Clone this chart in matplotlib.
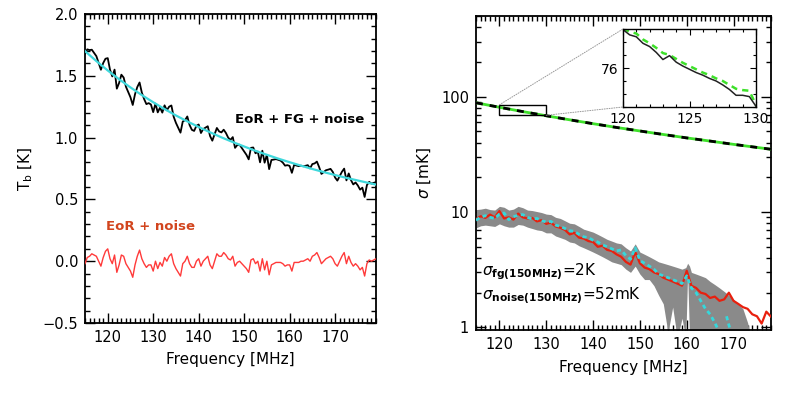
import numpy as np
import matplotlib
matplotlib.use("Agg")
import matplotlib.pyplot as plt
from matplotlib.ticker import MultipleLocator, FixedLocator, FixedFormatter, NullFormatter, LogLocator
from matplotlib.patches import Rectangle, ConnectionPatch

# ---------------- data: left panel (0.5 MHz grid) ----------------
freq_left_start, freq_left_stop = 115.0, 179.0
eor_noise = [-0.02, 0.03, 0.04, 0.06, 0.05, 0.04, 0.00, -0.04, 0.03, 0.08,
             0.10, 0.02, -0.02, 0.05, -0.09, -0.03, 0.05, 0.04, -0.02, -0.05,
             -0.08, -0.13, -0.03, 0.04, 0.09, 0.02, -0.02, -0.05, -0.03, -0.03,
             -0.08, 0.00, -0.06, -0.01, -0.04, 0.03, 0.00, 0.04, 0.06, -0.02,
             -0.06, -0.09, -0.12, -0.02, 0.00, 0.04, -0.02, -0.05, -0.05, 0.00,
             0.02, -0.04, 0.00, 0.02, 0.04, -0.03, -0.06, 0.00, 0.06, 0.04,
             0.04, 0.07, 0.05, 0.02, 0.01, 0.04, -0.04, -0.01, 0.00, -0.02,
             -0.04, -0.06, -0.09, 0.01, 0.02, -0.02, 0.00, -0.08, 0.02, -0.07,
             0.00, -0.11, -0.03, -0.02, -0.01, -0.01, -0.01, -0.02, -0.04, -0.03,
             -0.03, -0.08, -0.01, -0.01, -0.01, 0.00, 0.00, 0.01, 0.02, 0.00,
             0.04, 0.05, 0.07, 0.03, -0.02, 0.00, 0.02, 0.03, 0.04, 0.02,
             -0.02, -0.04, 0.00, 0.04, 0.07, -0.02, 0.04, -0.01, -0.04, -0.02,
             -0.04, -0.07, -0.05, -0.12, -0.02, 0.01, 0.00, 0.01, 0.02]
eor_fg_noise = [1.680, 1.714, 1.708, 1.711, 1.685, 1.659, 1.604, 1.549, 1.603, 1.638,
                1.643, 1.549, 1.495, 1.550, 1.396, 1.442, 1.509, 1.486, 1.412, 1.369,
                1.326, 1.264, 1.351, 1.409, 1.446, 1.364, 1.312, 1.271, 1.279, 1.268,
                1.206, 1.275, 1.204, 1.243, 1.202, 1.261, 1.221, 1.250, 1.260, 1.169,
                1.119, 1.079, 1.040, 1.130, 1.141, 1.171, 1.102, 1.063, 1.054, 1.095,
                1.106, 1.037, 1.069, 1.080, 1.092, 1.013, 0.975, 1.027, 1.078, 1.050,
                1.042, 1.064, 1.037, 0.999, 0.982, 1.004, 0.917, 0.940, 0.942, 0.915,
                0.888, 0.861, 0.824, 0.917, 0.920, 0.873, 0.887, 0.800, 0.894, 0.797,
                0.861, 0.745, 0.819, 0.822, 0.826, 0.820, 0.814, 0.798, 0.773, 0.777,
                0.771, 0.715, 0.780, 0.774, 0.769, 0.773, 0.768, 0.772, 0.777, 0.751,
                0.786, 0.791, 0.806, 0.761, 0.706, 0.721, 0.736, 0.741, 0.747, 0.722,
                0.677, 0.652, 0.688, 0.723, 0.749, 0.654, 0.710, 0.656, 0.621, 0.637,
                0.613, 0.579, 0.595, 0.520, 0.616, 0.642, 0.628, 0.634, 0.640]
fit_freq = [115, 117.5, 120, 122.5, 125, 127.5, 130, 132.5, 135, 137.5, 140, 142.5,
            145, 147.5, 150, 152.5, 155, 157.5, 160, 162.5, 165, 167.5, 170, 172.5,
            175, 177.5, 179]
fit_tb = [1.700, 1.619, 1.543, 1.472, 1.406, 1.344, 1.286, 1.231, 1.179, 1.131,
          1.086, 1.043, 1.002, 0.964, 0.928, 0.893, 0.861, 0.830, 0.801, 0.773,
          0.746, 0.721, 0.697, 0.674, 0.653, 0.632, 0.620]

# ---------------- data: right panel ----------------
fg_freq = [115, 120, 125, 130, 135, 140, 145, 150, 155, 160, 165, 170, 175, 178]
fg_sigma = [88.5, 80.9, 74.2, 68.3, 63.0, 58.3, 54.1, 50.4, 47.0, 43.9, 41.2, 38.6, 36.3, 35.0]

sig_freq = list(range(115, 179))
red_sigma = [8.7, 9.2, 8.9, 9.5, 9.0, 10.2, 8.8, 9.0, 8.6, 9.7,
             9.0, 8.8, 8.9, 8.3, 8.5, 7.9, 8.1, 7.5, 7.3, 7.0,
             6.4, 6.6, 6.0, 5.9, 5.6, 5.5, 5.0, 5.1, 4.7, 4.6,
             4.3, 4.1, 3.7, 3.5, 4.5, 3.6, 3.3, 3.2, 3.0, 2.9,
             2.7, 2.6, 2.5, 2.4, 2.3, 3.1, 2.3, 2.2, 2.0, 1.95,
             1.8, 1.85, 1.7, 1.75, 2.0, 1.7, 1.6, 1.5, 1.45, 1.3,
             1.25, 1.08, 1.37, 1.24]
cyan_freq = list(range(115, 168)) + [167.5, 168.5, 169.0, 169.5]
cyan_sigma = [8.5, 9.0, 9.3, 9.0, 8.8, 9.6, 9.8, 8.6, 9.1, 9.4,
              9.5, 9.0, 8.7, 8.8, 8.4, 8.2, 8.3, 7.7, 7.5, 7.2,
              6.9, 6.8, 6.4, 6.1, 6.0, 5.7, 5.5, 5.2, 5.0, 4.8,
              4.6, 4.7, 4.2, 3.9, 4.9, 3.8, 3.6, 3.4, 3.2, 2.9,
              2.8, 2.7, 2.6, 2.5, 2.4, 2.8, 2.2, 2.0, 1.7, 1.45,
              1.3, 1.1, 0.9, np.nan, 1.25, 1.05, 0.9]
band_freq = [115, 116, 117, 118, 119, 120, 121, 122, 123, 124, 125, 126, 127, 128,
             129, 130, 131, 132, 133, 134, 135, 136, 137, 138, 139, 140, 141, 142,
             143, 144, 145, 146, 147, 148, 149, 150, 151, 152, 153, 154, 155, 156,
             157, 158, 159, 159.8, 160.2, 160.6, 161, 162, 163, 164, 165, 166, 167,
             168, 169, 170, 171, 172, 173, 173.5]
band_hi = [10.5, 10.6, 10.8, 10.5, 10.4, 11.2, 11.0, 10.4, 10.6, 11.2, 10.9, 10.4, 10.3, 10.1,
           9.9, 9.6, 9.5, 9.0, 8.8, 8.4, 8.0, 7.9, 7.5, 7.1, 6.9, 6.7, 6.4, 6.1,
           5.8, 5.6, 5.4, 5.3, 4.9, 4.6, 5.3, 4.5, 4.3, 4.1, 3.9, 3.7, 3.6, 3.5,
           3.4, 3.3, 3.2, 3.3, 3.6, 3.4, 3.0, 2.9, 2.8, 2.7, 2.5, 2.35, 2.2,
           2.05, 1.9, 1.75, 1.6, 1.45, 1.1, 0.9]
band_lo = [7.3, 7.6, 7.7, 7.6, 7.5, 7.9, 7.6, 7.4, 7.4, 7.8, 7.7, 7.4, 7.2, 7.0,
           6.9, 6.6, 6.6, 6.2, 6.0, 5.8, 5.5, 5.4, 5.1, 4.9, 4.7, 4.5, 4.3, 4.1,
           3.9, 3.7, 3.6, 3.5, 3.2, 3.0, 3.4, 2.9, 2.6, 2.6, 2.3, 1.9, 1.6, 0.9,
           1.5, 0.8, 1.2, 0.8, 3.0, 0.8, 0.5, 0.5, 0.5, 0.5, 0.5, 0.5, 0.5,
           0.5, 0.5, 0.5, 0.5, 0.5, 0.5, 0.5]

# inset
inset_freq = [120.0, 120.5, 121.0, 121.5, 122.0, 122.5, 123.0, 123.5, 124.0, 124.5, 125.0,
              125.5, 126.0, 126.5, 127.0, 127.5, 128.0, 128.5, 129.0, 129.5, 130.0]
inset_black = [81.9, 81.1, 80.8, 79.8, 79.3, 78.4, 77.3, 77.9, 76.9, 76.3, 75.8,
               75.3, 74.9, 74.4, 74.0, 73.4, 72.7, 71.8, 71.8, 71.6, 70.1]
inset_green = [82.0, 81.6, 81.3, 80.4, 79.8, 79.1, 78.3, 78.0, 77.4, 76.8, 76.3,
               75.8, 75.3, 74.9, 74.4, 74.0, 73.4, 72.8, 72.6, 72.5, 70.3]

# ---------------- figure ----------------
W, H = 789, 394
fig = plt.figure(figsize=(W / 100, H / 100), dpi=100)
plt.rcParams['font.family'] = ['DejaVu Sans']


def fr(l, t, r, b):
    return [l / W, 1 - b / H, (r - l) / W, (b - t) / H]


def style(ax, fs=10.5):
    ax.tick_params(which='both', direction='in', top=True, right=True, labelsize=fs, width=1.0, colors='black')
    ax.tick_params(which='major', length=7, pad=5)
    ax.tick_params(which='minor', length=3.5)
    for s in ax.spines.values():
        s.set_linewidth(1.3)


# left panel
ax1 = fig.add_axes(fr(85, 14, 376, 323))
n = len(eor_noise)
fl = np.linspace(freq_left_start, freq_left_stop, n)
ax1.plot(fl, eor_fg_noise, color='black', lw=1.3, zorder=3)
ax1.plot(fit_freq, fit_tb, color='#3fd8dc', lw=1.6, zorder=4)
ax1.plot(fl, eor_noise, color='#ff3a3a', lw=1.0, zorder=3)
ax1.set_xlim(115, 179)
ax1.set_ylim(-0.5, 2.0)
ax1.xaxis.set_major_locator(FixedLocator([120, 130, 140, 150, 160, 170]))
ax1.xaxis.set_minor_locator(MultipleLocator(1))
ax1.yaxis.set_major_locator(MultipleLocator(0.5))
ax1.yaxis.set_minor_locator(MultipleLocator(0.1))
ax1.yaxis.set_major_formatter(plt.FuncFormatter(lambda v, p: f"{v:.1f}".replace('-', '\u2212')))
style(ax1)
ax1.set_xlabel('Frequency [MHz]', fontsize=11, labelpad=5)
ax1.set_ylabel(r'T$_\mathrm{b}$ [K]', fontsize=11, labelpad=5)
ax1.text(162.3, 1.15, 'EoR + FG + noise', fontsize=9.5, fontweight='bold', ha='center', va='center')
ax1.text(129.3, 0.28, 'EoR + noise', fontsize=9.5, fontweight='bold', ha='center', va='center', color='#d2451e')

# right panel
ax2 = fig.add_axes(fr(476, 16, 771, 330))
ax2.set_yscale('log')
ax2.fill_between(band_freq, band_lo, band_hi, color='#8a8a8a', lw=0, zorder=2)
ax2.plot(sig_freq, red_sigma, color='#e8200e', lw=1.6, zorder=3)
ax2.plot(cyan_freq, cyan_sigma, color='#35d8dc', lw=2.0, ls=(0, (1.5, 1.2)), zorder=4)
ax2.plot(fg_freq, fg_sigma, color='#3ee02a', lw=2.0, zorder=3)
ax2.plot(fg_freq, fg_sigma, color='black', lw=2.0, ls=(0, (2.5, 2.5)), zorder=4)
ax2.set_xlim(115, 178)
ax2.set_ylim(0.95, 500)
ax2.xaxis.set_major_locator(FixedLocator([120, 130, 140, 150, 160, 170]))
ax2.xaxis.set_minor_locator(MultipleLocator(1))
ax2.yaxis.set_major_locator(FixedLocator([1, 10, 100]))
ax2.yaxis.set_major_formatter(FixedFormatter(['1', '10', '100']))
ax2.yaxis.set_minor_locator(LogLocator(base=10, subs=np.arange(2, 10)))
ax2.yaxis.set_minor_formatter(NullFormatter())
style(ax2)
ax2.set_xlabel('Frequency [MHz]', fontsize=11, labelpad=6)
ax2.set_ylabel(r'$\sigma$ [mK]', fontsize=11, labelpad=6)
ax2.text(116.2, 3.05, r'$\sigma_{\mathbf{fg(150MHz)}}$=2K', fontsize=11, ha='left', va='center')
ax2.text(116.2, 1.85, r'$\sigma_{\mathbf{noise(150MHz)}}$=52mK', fontsize=11, ha='left', va='center')
rect_lo, rect_hi = 69.0, 85.0
ax2.add_patch(Rectangle((120, rect_lo), 10, rect_hi - rect_lo, fill=False, ec='black', lw=1.0, zorder=5))

# inset
ax3 = fig.add_axes(fr(623, 29, 756, 107))
ax3.plot(inset_freq, inset_green, color='#3ee02a', lw=1.8, ls=(0, (2.5, 2)))
ax3.plot(inset_freq, inset_black, color='#222222', lw=1.1)
ax3.set_xlim(120, 130)
ax3.set_ylim(70, 82)
ax3.xaxis.set_major_locator(FixedLocator([120, 125, 130]))
ax3.xaxis.set_minor_locator(MultipleLocator(1))
ax3.yaxis.set_major_locator(FixedLocator([76]))
ax3.yaxis.set_minor_locator(MultipleLocator(2))
ax3.tick_params(which='both', direction='in', top=True, right=True, labelsize=10, width=0.8)
ax3.tick_params(which='major', length=4)
ax3.tick_params(which='minor', length=2)
for s in ax3.spines.values():
    s.set_linewidth(1.0)

for (xa, ya, xb, yb) in [(120, rect_hi, 120, 82), (130, rect_lo, 120, 70)]:
    cp = ConnectionPatch(xyA=(xa, ya), coordsA=ax2.transData, xyB=(xb, yb), coordsB=ax3.transData,
                         color='#999999', lw=0.7, ls=(0, (1, 1.5)), zorder=1)
    fig.add_artist(cp)

fig.savefig('out.png', dpi=100, facecolor='white')
